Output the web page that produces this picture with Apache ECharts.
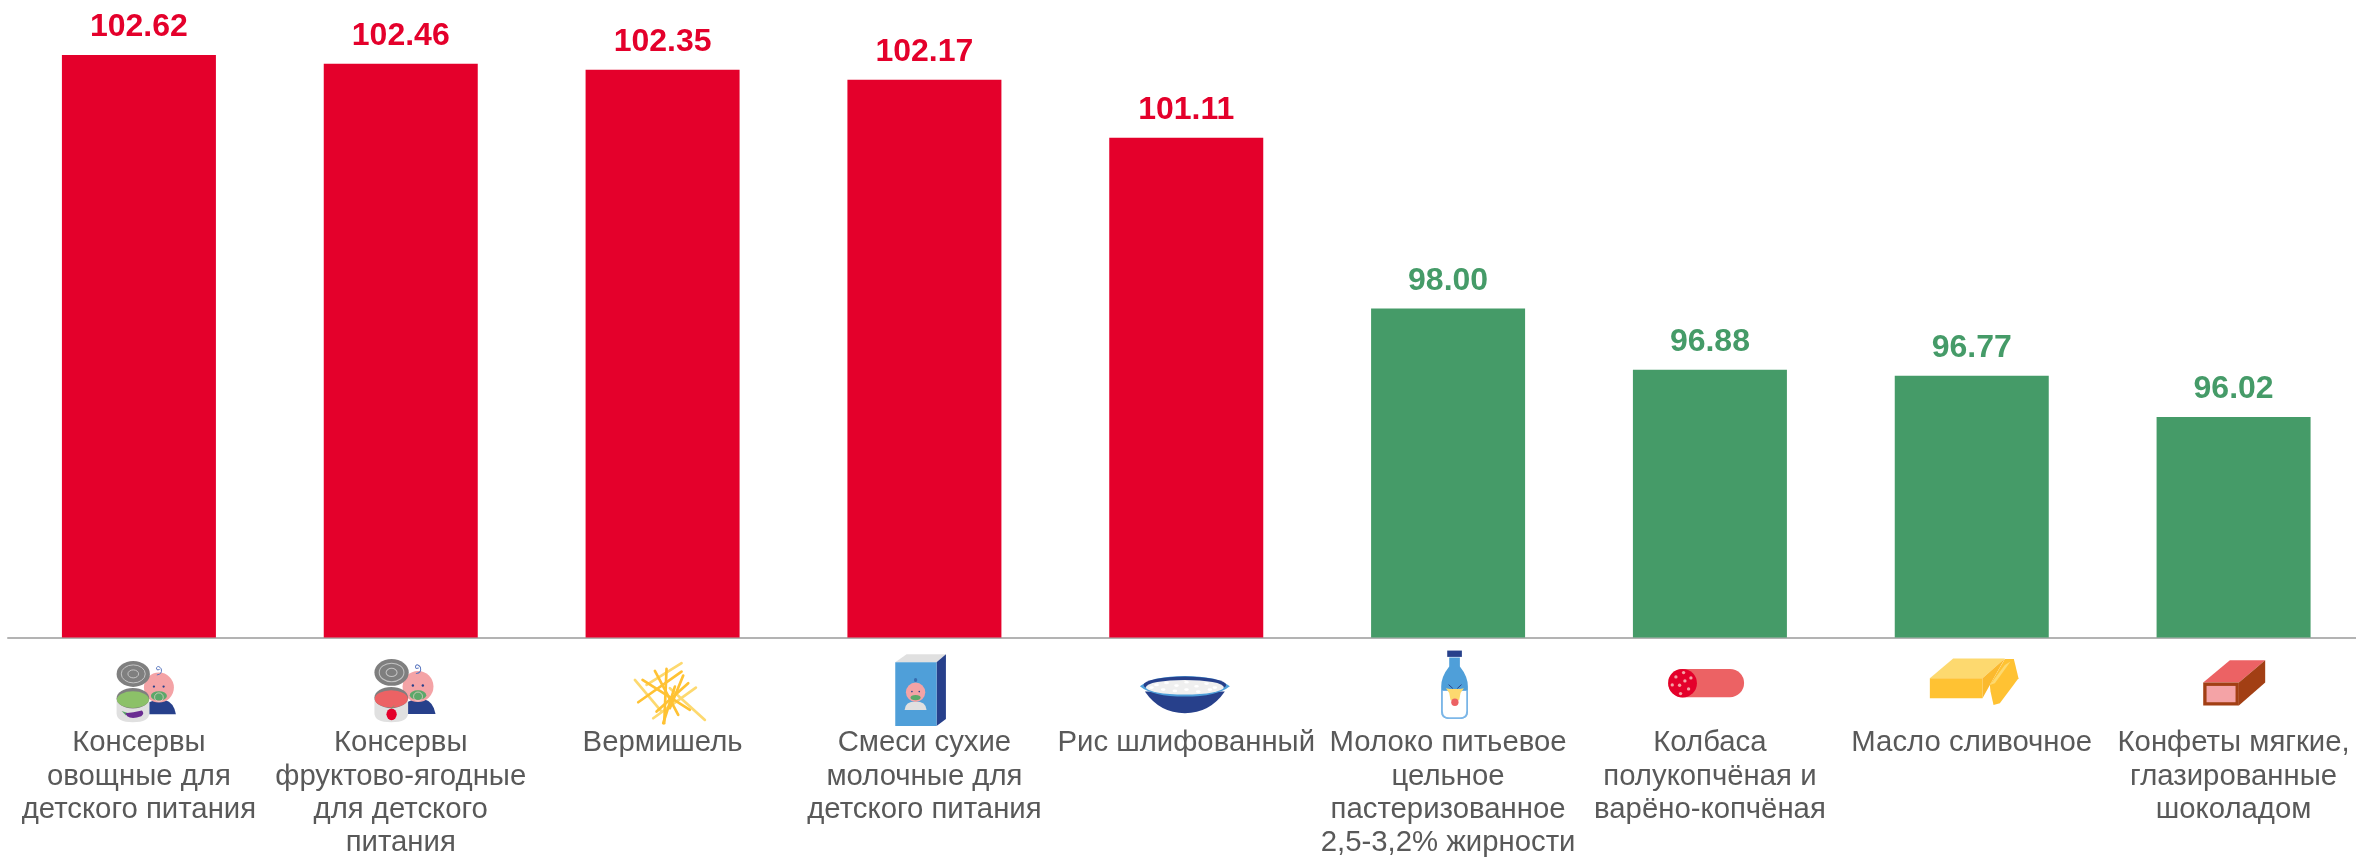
<!DOCTYPE html>
<html><head><meta charset="utf-8">
<style>html,body{margin:0;padding:0;background:#fff}#c{width:2356px;height:857px}</style>
<script src="https://cdn.jsdelivr.net/npm/echarts@6/dist/echarts.min.js"></script>
</head><body><div id="c"></div>
<script>
const categories = [
  'Консервы\nовощные для\nдетского питания',
  'Консервы\nфруктово-ягодные\nдля детского\nпитания',
  'Вермишель',
  'Смеси сухие\nмолочные для\nдетского питания',
  'Рис шлифованный',
  'Молоко питьевое\nцельное\nпастеризованное\n2,5-3,2% жирности',
  'Колбаса\nполукопчёная и\nварёно-копчёная',
  'Масло сливочное',
  'Конфеты мягкие,\nглазированные\nшоколадом'
];
const values = [102.62, 102.46, 102.35, 102.17, 101.11, 98.00, 96.88, 96.77, 96.02];
const RED = '#E4002B', GREEN = '#459B68', NAVY = '#27408B', BLUE = '#4F9FD9', PINK = '#F4A3A6',
      SALMON = '#EC6264', GOLD = '#FFC233', PALE = '#FDD96F', GREY = '#7F7F7F', LIGHT = '#E0E0E0', BROWN = '#A23F14';
const axisMin = 92, axisMax = 103;

function ell(cx, cy, rx, ry, fill, stroke, lw) {
  return { type: 'path', silent: true,
    shape: { pathData: `M${cx - rx} ${cy}A${rx} ${ry} 0 1 1 ${cx + rx} ${cy}A${rx} ${ry} 0 1 1 ${cx - rx} ${cy}Z` },
    style: { fill: fill || 'none', stroke: stroke || 'none', lineWidth: lw || 0 } };
}
function pth(d, fill, stroke, lw) {
  return { type: 'path', silent: true, shape: { pathData: d },
    style: { fill: fill || 'none', stroke: stroke || 'none', lineWidth: lw || 0, lineCap: 'round' } };
}
function canBaby(inner, deco) {
  return [
    pth('M148 208L148 172L165 165L195 165Q222 172 228 208Z', NAVY),
    ell(177, 128, 45, 45, PINK),
    ell(162, 125, 3.5, 3.5, NAVY), ell(191, 125, 3.5, 3.5, NAVY),
    ell(177, 153, 24, 14, '#5CA86A'),
    ell(177, 157, 13, 13, null, '#F7D5D5', 2),
    pth('M172 90Q188 88 184 72Q176 60 170 68Q168 78 178 74', null, '#5B78C0', 3),
    ell(100, 87, 50, 39, GREY),
    ell(100, 87, 36, 27, null, '#C4C4C4', 3),
    ell(100, 87, 16, 12, null, '#C4C4C4', 3),
    pth('M50 160L50 205Q50 232 99 232Q148 232 148 205L148 160Z', LIGHT),
    ell(99, 160, 49, 31, GREY),
    ell(99, 164, 48, 25, inner)
  ].concat(deco);
}
const iconParts = [
  { dx: -39, dy: 7.5, k: 1, parts: canBaby('#8CC168', [
      pth('M65 198L84 204L78 212Z', '#5CA86A'),
      pth('M76 205Q100 203 126 197Q135 206 124 214Q96 224 82 214Z', '#6A2C91')]) },
  { dx: -43.5, dy: 5.2, k: 1.03, parts: canBaby(SALMON, [
      ell(100, 209, 15, 17, RED),
      pth('M100 192L106 184', null, '#5CA86A', 2)]) },
  { dx: -42.7, dy: 7.5, k: 1, parts: [
      ['M45 105L125 200', PALE], ['M80 120L185 55', PALE], ['M150 130L255 225', PALE], ['M100 220L228 128', PALE],
      ['M55 172L185 80', GOLD], ['M68 105L210 195', GOLD], ['M105 78L175 210', GOLD], ['M140 72L133 235', GOLD],
      ['M190 92L150 190', GOLD], ['M110 200L205 115', GOLD], ['M130 235L165 125', GOLD]
    ].map(a => pth(a[0], null, a[1], 8)) },
  { dx: -304.5, dy: 7.5, k: 1, parts: [
      pth('M826 52L860 28L978 28L950 52Z', LIGHT),
      pth('M950 52L978 28L978 222L950 243Z', NAVY),
      pth('M826 52L950 52L950 243L826 243Z', BLUE),
      pth('M854 195Q856 170 887 170Q918 170 920 195Z', LIGHT),
      ell(887, 142, 29, 29, PINK),
      ell(887, 105, 5, 6, '#3A6DB0'),
      ell(876, 140, 2.5, 2.5, NAVY), ell(898, 140, 2.5, 2.5, NAVY),
      ell(887, 158, 15, 8, '#5CA86A')] },
  { dx: -56.4, dy: 7.5, k: 1, parts: [
      pth('M45 140Q90 205 165 205Q240 205 285 140Z', NAVY),
      pth('M30 124Q70 93 165 93Q260 93 300 124Q262 155 165 155Q68 155 30 124Z', BLUE),
      ell(165, 120, 124, 25, NAVY),
      ell(165, 127, 117, 22, '#EFEFEF')
    ].concat([[80,120],[110,114],[140,122],[170,112],[200,124],[230,116],[255,128],[100,134],[135,138],[170,134],[205,140],[240,134],[65,128]]
      .map(p => ell(p[0], p[1], 7, 4, '#FFFFFF'))) },
  { dx: -318.2, dy: 7.5, k: 1, parts: [
      pth('M958 38L990 38L990 65Q1014 95 1014 125L1014 200Q1014 222 992 222L956 222Q934 222 934 200L934 125Q934 95 958 65Z', BLUE),
      pth('M934 136L1014 136L1014 200Q1014 222 992 222L956 222Q934 222 934 200Z', '#7DB7E8'),
      pth('M939 138L1009 138L1009 198Q1009 217 990 217L958 217Q939 217 939 198Z', '#FFFFFF'),
      pth('M952 36L996 36L996 17L952 17Z', NAVY),
      pth('M957 120L968 130M994 120L983 130', null, NAVY, 3),
      pth('M948 130L960 132L990 132L1002 130L992 144L988 166L962 166L958 144Z', PALE),
      ell(975, 172, 11, 11, SALMON)] },
  { dx: -50, dy: 7.5, k: 1, parts: [
      pth('M67 72L210 72A42.5 42.5 0 0 1 210 157L67 157A42.5 42.5 0 0 1 67 72Z', SALMON),
      ell(68, 115, 43, 43, RED)
    ].concat([[48,96],[71,83],[93,99],[75,108],[59,121],[37,120],[86,132],[62,146]].map(p => ell(p[0], p[1], 5, 5, PINK))) },
  { dx: -311.9, dy: 7.5, k: 1, parts: [
      pth('M810 100L880 41L1035 41L968 100Z', PALE),
      pth('M810 100L968 100L968 160L810 160Z', GOLD),
      pth('M968 100L1035 41L990 120L968 160Z', '#FBB92E'),
      pth('M1035 42L1062 42L1076 100L1020 175L1001 180L992 140L990 120Z', GOLD),
      pth('M990 120L1035 60L1052 50L1005 115Z', PALE)] },
  { dx: -133.7, dy: 7.5, k: 1, parts: [
      pth('M310 113L390 46L496 46L417 113Z', SALMON),
      pth('M417 113L496 46L496 113L417 182Z', BROWN),
      pth('M310 113L417 113L417 182L310 182Z', BROWN),
      pth('M320 123L407 123L407 172L320 172Z', PINK)] }
];

const chart = echarts.init(document.getElementById('c'), null, { renderer: 'canvas' });
const lblFont = '"Liberation Sans", Arial, sans-serif';
chart.setOption({
  animation: false,
  backgroundColor: '#fff',
  grid: { left: 8, width: 2356.5, top: 34.2, height: 603.2, containLabel: false, outerBoundsMode: 'none' },
  xAxis: {
    type: 'category', data: categories,
    axisTick: { show: false },
    axisLine: { lineStyle: { color: '#B3B3B3', width: 2 } },
    axisLabel: { interval: 0, margin: 89, color: '#595959', fontFamily: lblFont, fontSize: 29.33, lineHeight: 33.4, align: 'center', verticalAlign: 'top' }
  },
  yAxis: { type: 'value', min: axisMin, max: axisMax, show: false, splitLine: { show: false } },
  series: [
    { type: 'bar', barWidth: 154, data: values,
      itemStyle: { color: p => p.value >= 100 ? RED : GREEN },
      label: { show: true, position: 'top', distance: 11.5, fontFamily: lblFont, fontWeight: 'bold', fontSize: 32,
        formatter: p => p.value.toFixed(2),
        color: 'inherit' } },
    { type: 'custom', silent: true, clip: false, z: 5,
      data: categories.map((c, i) => [i, axisMin]),
      encode: { x: 0, y: 1 },
      renderItem: (params, api) => {
        const ic = iconParts[api.value(0)];
        const pos = api.coord([api.value(0), axisMin]);
        const s = ic.k / 3;
        return { type: 'group', x: pos[0] + ic.dx, y: pos[1] + ic.dy, scaleX: s, scaleY: s, children: ic.parts };
      } }
  ]
});
</script></body></html>
